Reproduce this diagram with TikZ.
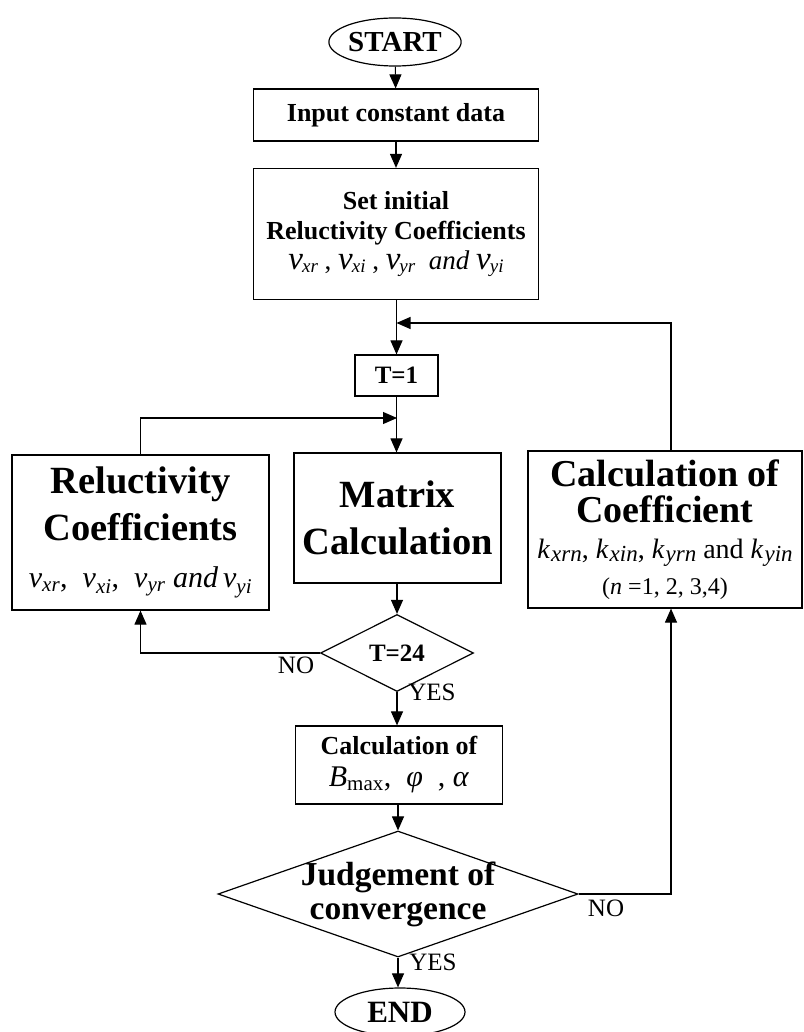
\documentclass[tikz,border=0pt]{standalone}
\usepackage{fontspec}
\setmainfont{Liberation Serif}
\usetikzlibrary{shapes.geometric,arrows.meta}
\newcommand{\nuv}[1]{\textit{ν}\textsubscript{\textit{#1}}}
\newcommand{\nubig}[1]{{\fontsize{33}{33}\selectfont\textit{ν}}\kern-1pt\raisebox{-3pt}{\fontsize{19}{19}\selectfont\textit{#1}}}
\newcommand{\kco}[1]{\textit{k}\kern1pt\raisebox{-3pt}{\fontsize{23}{23}\selectfont\textit{#1}}}
\newcommand{\smallbf}{\bfseries\fontsize{26}{30}\selectfont}
\newcommand{\bigbf}{\bfseries\fontsize{38.5}{47}\selectfont}
\tikzset{
  box/.style={draw,rectangle,inner sep=0pt,align=center,line width=1.2pt},
  term/.style={draw,ellipse,inner sep=0pt,line width=1.2pt},
  dia/.style={draw,diamond,inner sep=0pt,line width=1.2pt},
  arr/.style={-{Triangle[length=14pt,width=12pt]},line width=1.1pt},
  yn/.style={font=\fontsize{25}{25}\selectfont}
}
\begin{document}
\begin{tikzpicture}[x=1pt,y=-1pt]
\useasboundingbox (0,0) rectangle (803,1032);
\node[term,minimum width=131pt,minimum height=48pt,font=\bfseries\fontsize{29}{30}\selectfont] (start) at (395,42) {START};
\node[box,minimum width=285pt,minimum height=52pt,font=\smallbf] (input) at (396,115) {Input constant data};
\node[box,minimum width=285pt,minimum height=131pt,font=\smallbf] (init) at (396,234) {Set initial\\Reluctivity Coefficients\\\mdseries\fontsize{27}{33}\selectfont \nubig{xr} , \nubig{xi} , \nubig{yr} \ \textit{and} \nubig{yi}};
\node[box,minimum width=83pt,minimum height=41pt,font=\bfseries\fontsize{25}{25}\selectfont] (tone) at (396.5,375.5) {T=1};
\node[box,minimum width=207pt,minimum height=130pt,font=\bigbf] (matcalc) at (397.5,518) {Matrix\\Calculation};
\node[box,minimum width=257pt,minimum height=155pt,font=\bigbf] (reluc) at (140.5,532.5) {Reluctivity\\Coefficients\\\mdseries\fontsize{30}{40}\selectfont \nuv{xr}, \ \nuv{xi}, \ \nuv{yr} \textit{and}\,\nuv{yi}};
\node[box,minimum width=274pt,minimum height=157pt,font=\bfseries\fontsize{38}{36}\selectfont] (coef) at (665,529.5) {Calculation of\\Coefficient\\\mdseries\fontsize{28}{36}\selectfont \kco{xrn}, \kco{xin}, \kco{yrn} and \kco{yin}\\\mdseries\fontsize{24}{26}\selectfont (\textit{n} =1, 2, 3,4)};
\node[dia,minimum width=153pt,minimum height=77pt,label={[font=\bfseries\fontsize{25}{25}\selectfont]center:T=24}] (tfour) at (397,653) {};
\node[box,minimum width=207pt,minimum height=78pt,font=\bfseries\fontsize{26}{32}\selectfont] (bmax) at (399,765) {Calculation of\\\mdseries\fontsize{30}{33}\selectfont \textit{B}\textsubscript{max}, \ \textit{φ} \ , \textit{α}};
\node[dia,minimum width=360pt,minimum height=126pt,label={[font=\bfseries\fontsize{33.5}{34}\selectfont,align=center]center:Judgement of\\convergence}] (judge) at (398,894) {};
\node[term,minimum width=130pt,minimum height=48pt,font=\bfseries\fontsize{31}{31}\selectfont] (finish) at (400,1012) {END};
\coordinate (jret) at (396.5,323);
\coordinate (jloop) at (397,418);
\coordinate (cbend) at (671,323);
\draw[arr] (start) -- (input);
\draw[arr] (input) -- (init);
\draw[arr] (init.south -| tone) -- (tone);
\draw[arr] (coef.north -| cbend) -- (cbend) -- (jret);
\draw[arr] (tone) -- (tone |- matcalc.north);
\draw[arr] (reluc.north) |- (jloop);
\draw[arr] (matcalc.south -| tfour) -- (tfour);
\draw[arr] (tfour.west) -| (reluc.south);
\draw[arr] (tfour) -- (tfour |- bmax.north);
\draw[arr] (bmax.south -| judge) -- (judge);
\draw[arr] (judge) -- (judge |- finish.north);
\draw[arr] (judge.east) -| (coef.south -| cbend);
\node[yn] (noa) at (296,665) {NO};
\node[yn] (yesa) at (432,692) {YES};
\node[yn] (nob) at (606,908) {NO};
\node[yn] (yesb) at (433,962) {YES};
\end{tikzpicture}
\end{document}
